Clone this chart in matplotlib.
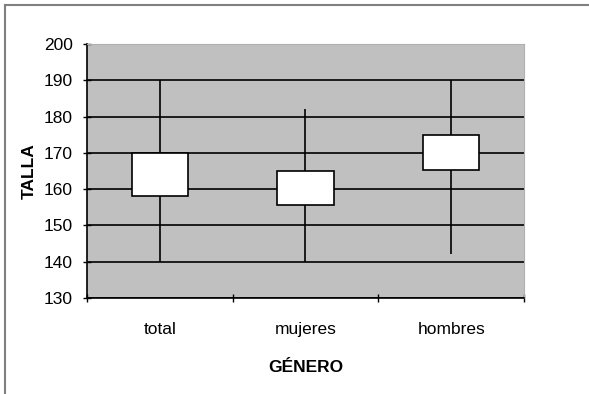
import matplotlib
matplotlib.use("Agg")
import matplotlib.pyplot as plt
from matplotlib.lines import Line2D
import numpy as np

plt.rcParams["font.family"] = ["Liberation Sans", "DejaVu Sans"]

# ── data ──────────────────────────────────────────────────────────────────────

categories   = ["total", "mujeres", "hombres"]
whisker_low  = [140, 140, 142]
box_low      = [158, 155.5, 165.3]
box_high     = [170, 165, 175]
whisker_high = [190, 182, 190]

# ── figure ────────────────────────────────────────────────────────────────────

fig = plt.figure(figsize=(5.89, 3.94), dpi=100)
ax = fig.add_axes([0.1477, 0.2437, 0.7419, 0.6447])

ax.set_facecolor("#c0c0c0")
x = np.arange(len(categories)) + 0.5

# whiskers behind the boxes
ax.vlines(x, whisker_low, whisker_high, color="black", linewidth=1.2, zorder=2)

heights = np.array(box_high) - np.array(box_low)
ax.bar(x, heights, bottom=box_low, width=0.385,
       color="white", edgecolor="black", linewidth=1.2, zorder=3)

ax.set_xlim(0, 3)
ax.set_ylim(130, 200)
ax.set_yticks(np.arange(130, 201, 10))
ax.yaxis.grid(True, color="black", linewidth=1.2, zorder=1)
ax.set_axisbelow(True)

# category boundaries as major ticks, names on minor ticks
ax.set_xticks([0, 1, 2, 3])
ax.set_xticklabels([])
ax.set_xticks(x, minor=True)
ax.set_xticklabels(categories, minor=True, fontsize=12.5)
ax.tick_params(axis="x", which="minor", length=0, pad=17)
ax.tick_params(axis="both", which="major", direction="inout",
               length=6, width=1, pad=7, labelsize=12.5)

for side in ["top", "right"]:
    ax.spines[side].set_color("#b0b0b0")
    ax.spines[side].set_linewidth(0.8)
for side in ["left", "bottom"]:
    ax.spines[side].set_linewidth(1.2)

ax.set_xlabel("GÉNERO", fontsize=12.5, fontweight="bold", labelpad=17)
ax.set_ylabel("TALLA", fontsize=12.5, fontweight="bold", labelpad=5)

# outer frame (top and left edges)
fig.add_artist(Line2D([5 / 589, 1], [1 - 5 / 394, 1 - 5 / 394],
                      color="#808080", linewidth=1.5, transform=fig.transFigure))
fig.add_artist(Line2D([5 / 589, 5 / 589], [0, 1 - 5 / 394],
                      color="#808080", linewidth=1.5, transform=fig.transFigure))

fig.savefig("out.png", dpi=100)
